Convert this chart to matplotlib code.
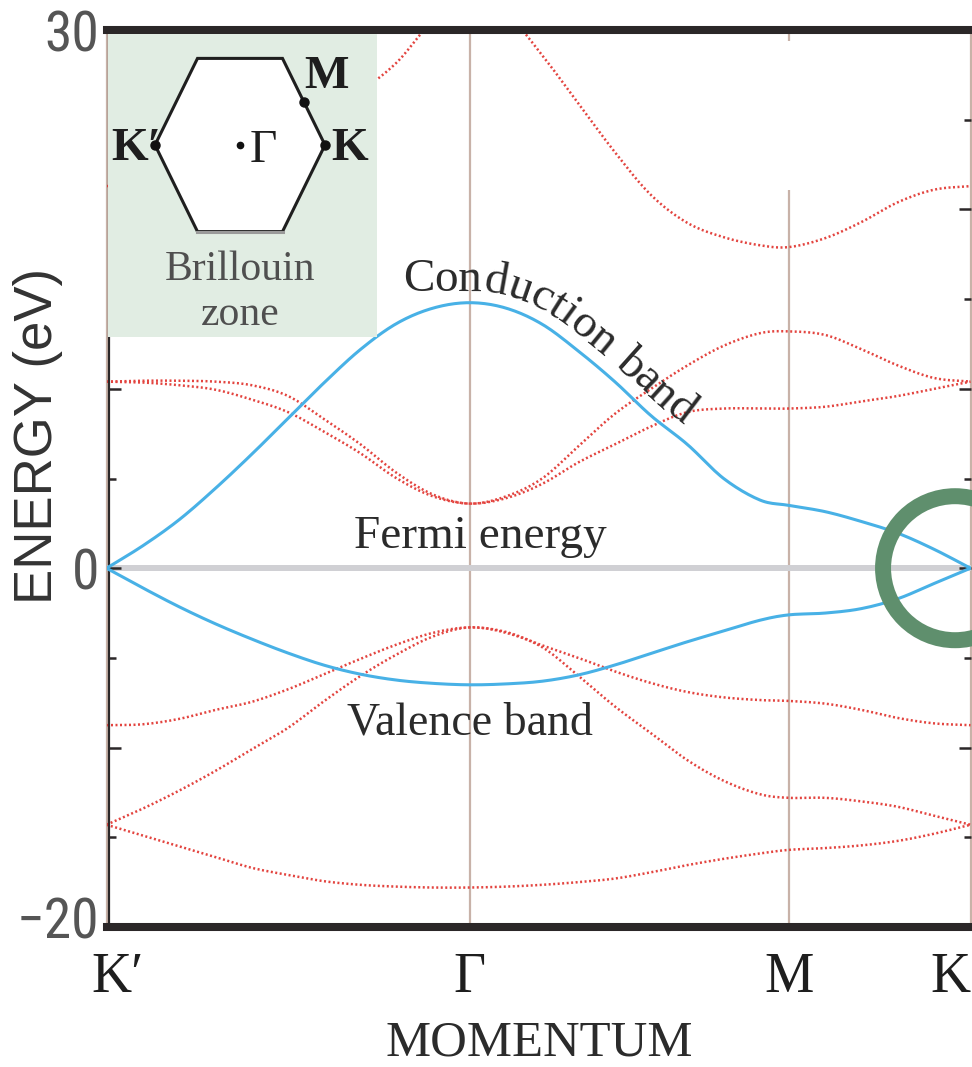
import numpy as np
import matplotlib
matplotlib.use('Agg')
import matplotlib.pyplot as plt
import matplotlib.transforms as mtransforms
from matplotlib import font_manager
from matplotlib.font_manager import FontProperties
from matplotlib.patches import Ellipse, Arc, Polygon
from matplotlib.ticker import MultipleLocator

W, H, DPI = 972, 1067, 100

installed = {f.name for f in font_manager.fontManager.ttflist}


def pick(*names):
    for n in names:
        if n in installed:
            return n
    return 'DejaVu Sans'


NARROW = pick('Liberation Sans Narrow', 'Roboto Condensed', 'Liberation Sans')
SANS = pick('Liberation Sans', 'DejaVu Sans')
SERIF = pick('Liberation Serif', 'DejaVu Serif')

# path through the Brillouin zone: K' - Gamma - M - K
K_PATH = [0.0, 0.1, 0.2, 0.3, 0.4, 0.5, 0.6, 0.7, 0.8, 0.9, 1.0,
          1.1, 1.2, 1.3, 1.4, 1.5, 1.6, 1.7, 1.8, 1.88,
          1.98, 2.08, 2.18, 2.28, 2.38]
SYM_POS = [0.0, 1.0, 1.88, 2.38]
SYM_LABELS = ['K′', 'Γ', 'M', 'K']

# pi bands (eV)
conduction = [0.0, 1.25, 2.7, 4.45, 6.35, 8.35, 10.35, 12.2, 13.65, 14.5, 14.8,
              14.5, 13.6, 12.1, 10.4, 8.5, 6.9, 5.0, 3.8, 3.5,
              3.15, 2.6, 1.95, 1.05, 0.0]
valence = [0.0, -1.1, -2.15, -3.1, -3.95, -4.73, -5.41, -5.91, -6.24, -6.42, -6.5,
           -6.45, -6.3, -5.95, -5.4, -4.75, -4.1, -3.5, -2.9, -2.6,
           -2.5, -2.25, -1.7, -0.85, 0.0]

# sigma bands (eV)
band_top = [21.3, 21.4, 21.8, 22.4, 23.2, 24.2, 25.4, 26.6, 28.2, 30.6, 32.3,
            31.0, 28.6, 25.9, 23.2, 20.8, 19.25, 18.45, 18.0, 17.9,
            18.4, 19.3, 20.4, 21.1, 21.3]
band_up_a = [10.4, 10.45, 10.45, 10.4, 10.2, 9.6, 8.3, 6.9, 5.3, 4.1, 3.6,
             4.0, 5.0, 6.8, 8.6, 10.0, 11.3, 12.4, 13.1, 13.2,
             13.0, 12.2, 11.3, 10.6, 10.4]
band_up_b = [10.4, 10.35, 10.2, 9.95, 9.4, 8.7, 7.6, 6.4, 5.0, 4.0, 3.6,
             3.9, 4.7, 5.9, 6.9, 7.9, 8.7, 8.9, 8.9, 8.9,
             9.0, 9.3, 9.6, 10.0, 10.4]
band_low_a = [-8.75, -8.7, -8.4, -7.9, -7.45, -6.75, -5.9, -5.05, -4.25, -3.6, -3.3,
              -3.55, -4.3, -5.0, -5.75, -6.4, -6.9, -7.2, -7.35, -7.4,
              -7.55, -7.9, -8.35, -8.65, -8.75]
band_low_b = [-14.3, -13.4, -12.4, -11.3, -10.1, -8.9, -7.4, -6.0, -4.8, -3.8, -3.3,
              -3.6, -4.4, -6.0, -7.7, -9.2, -10.7, -11.85, -12.6, -12.8,
              -12.8, -13.0, -13.3, -13.8, -14.3]
band_low_c = [-14.3, -14.9, -15.5, -16.1, -16.7, -17.1, -17.45, -17.65, -17.75, -17.8, -17.8,
              -17.75, -17.65, -17.5, -17.3, -16.95, -16.55, -16.2, -15.9, -15.7,
              -15.6, -15.45, -15.2, -14.8, -14.3]
sigma_bands = [band_top, band_up_a, band_up_b, band_low_a, band_low_b, band_low_c]

BLUE = '#48b1e6'
RED = '#e3443f'
TAN = '#c8b2a8'
INK = '#2b2728'


def smooth(xs, ys, n=12):
    # Catmull-Rom curve through the sampled points
    p = np.column_stack([xs, ys]).astype(float)
    p = np.vstack([2 * p[0] - p[1], p, 2 * p[-1] - p[-2]])
    t = np.linspace(0, 1, n, endpoint=False)[:, None]
    out = []
    for i in range(1, len(p) - 2):
        p0, p1, p2, p3 = p[i - 1], p[i], p[i + 1], p[i + 2]
        out.append(0.5 * (2 * p1 + (-p0 + p2) * t
                          + (2 * p0 - 5 * p1 + 4 * p2 - p3) * t ** 2
                          + (-p0 + 3 * p1 - 3 * p2 + p3) * t ** 3))
    out.append(p[-2][None])
    c = np.vstack(out)
    return c[:, 0], c[:, 1]


def text_on_curve(ax, s, kx, ky, x_start, lift, fp, flat_left=False, **kw):
    fig = ax.figure
    r = fig.canvas.get_renderer()
    pts = ax.transData.transform(np.column_stack([kx, ky]))
    tang = np.gradient(pts, axis=0)
    tang /= np.hypot(tang[:, 0], tang[:, 1])[:, None]
    norm = np.column_stack([-tang[:, 1], tang[:, 0]])
    guide = pts + lift * norm
    if flat_left:
        top = np.argmax(guide[:, 1])
        guide[:top, 1] = guide[top, 1]
    seg = np.hypot(*np.diff(guide, axis=0).T)
    arc = np.concatenate([[0], np.cumsum(seg)])
    s0 = np.interp(x_start, guide[:, 0], arc)

    def width(t):
        return r.get_text_width_height_descent(t, fp, ismath=False)[0] if t else 0.0

    for i, ch in enumerate(s):
        if ch == ' ':
            continue
        c = s0 + width(s[:i + 1]) - width(ch) / 2
        x = np.interp(c, arc, guide[:, 0])
        y = np.interp(c, arc, guide[:, 1])
        dx = np.interp(c + 3, arc, guide[:, 0]) - np.interp(c - 3, arc, guide[:, 0])
        dy = np.interp(c + 3, arc, guide[:, 1]) - np.interp(c - 3, arc, guide[:, 1])
        ax.text(x, y, ch, transform=mtransforms.IdentityTransform(),
                rotation=np.degrees(np.arctan2(dy, dx)), rotation_mode='anchor',
                ha='center', va='baseline', fontproperties=fp, **kw)


def shift(artist, dx, dy):
    # nudge a text by a few points
    artist.set_transform(artist.get_transform()
                         + mtransforms.ScaledTranslation(dx / 72, dy / 72, fig.dpi_scale_trans))


fig = plt.figure(figsize=(W / DPI, H / DPI), dpi=DPI)
ax = fig.add_axes([106.5 / W, 1 - 927 / H, 864 / W, 897 / H])
ax.set_xlim(SYM_POS[0], SYM_POS[-1])
ax.set_ylim(-20, 30)

# high-symmetry lines
for pos in (SYM_POS[0], SYM_POS[1], SYM_POS[3]):
    ax.axvline(pos, color=TAN, lw=1.6, zorder=1, clip_on=False)
ax.vlines(SYM_POS[2], -20, 21.1, color=TAN, lw=1.6, zorder=1)
ax.vlines(SYM_POS[2], 29.4, 30, color=TAN, lw=1.6, zorder=1)

# Fermi level
ax.axhline(0, color='#d0d0d4', lw=4.3, zorder=1.5)

for band in sigma_bands:
    kx, ky = smooth(K_PATH, band)
    ax.plot(kx, ky, color=RED, lw=1.8, ls=(0, (0.8, 1.0)), zorder=2)

ckx, cky = smooth(K_PATH, conduction)
vkx, vky = smooth(K_PATH, valence)
ax.plot(ckx, cky, color=BLUE, lw=2.2, zorder=3, solid_capstyle='round')
ax.plot(vkx, vky, color=BLUE, lw=2.2, zorder=3, solid_capstyle='round')

# Dirac point marker
kc = (955 - 106.5) / 363
ax.add_patch(Arc((kc, 0), 2 * 88 / 363, 2 * 88 / 17.94, theta1=-86, theta2=86,
                 color='#dbeadd', lw=8.6, zorder=4.5, clip_on=False))
ax.add_patch(Ellipse((kc, 0), 2 * 72 / 363, 2 * 72 / 17.94, fill=False,
                     edgecolor='#5f8f6d', lw=11.5, zorder=5, clip_on=False))

# labels on the plot
serif_fp = FontProperties(family=SERIF, size=34)
ax.text(1.03, 1.1, 'Fermi energy', ha='center', va='baseline',
        fontproperties=serif_fp, color='#2b2b2b', zorder=4)
ax.text(1.0, -9.25, 'Valence band', ha='center', va='baseline',
        fontproperties=FontProperties(family=SERIF, size=33), color='#2b2b2b', zorder=4)
text_on_curve(ax, 'Conduction band', ckx, cky, 403, 12, serif_fp,
              flat_left=True, color='#2b2b2b', zorder=4)

# axes frame and ticks
for side in ('top', 'bottom'):
    ax.spines[side].set_linewidth(5.8)
    ax.spines[side].set_color(INK)
ax.spines['right'].set_visible(False)
ax.spines['left'].set_linewidth(1.6)
ax.spines['left'].set_color(INK)
ax.spines['left'].set_position(('axes', 0.0025))

ax.set_yticks([-20, -10, 0, 10, 20, 30])
ax.set_yticklabels(['−20', '', '0', '', '', '30'])
ax.yaxis.set_minor_locator(MultipleLocator(5))
ax.tick_params(axis='y', which='both', direction='in', left=True, right=True,
               width=1.8, color=INK, labelsize=40, labelcolor='#555555', pad=7)
ax.tick_params(axis='y', which='major', length=8.6)
ax.tick_params(axis='y', which='minor', length=5)
ylabels = ax.get_yticklabels()
for lbl in ylabels:
    lbl.set_fontfamily(NARROW)
shift(ylabels[0], 0, 6.5)

ax.set_xticks(SYM_POS, SYM_LABELS)
ax.tick_params(axis='x', length=0, pad=18, labelsize=40, labelcolor='#1e1e1e')
xlabels = ax.get_xticklabels()
for lbl in xlabels:
    lbl.set_fontfamily(SERIF)
shift(xlabels[0], 7.6, 0)
shift(xlabels[-1], -14.5, 0)

fig.text(38 / W, 1 - 436 / H, 'ENERGY (eV)', rotation=90, ha='center', va='center',
         family=SANS, size=38, color='#333333')
fig.text(539 / W, 1 - 1043 / H, 'MOMENTUM', ha='center', va='center',
         family=SERIF, size=36.5, color='#2b2b2b')

# Brillouin zone inset
ins = fig.add_axes([107.5 / W, 1 - 337 / H, (377 - 107.5) / W, (337 - 34) / H], zorder=3)
ins.set_facecolor('#e1ede3')
ins.set_xlim((107.5 - 240) / 85, (377 - 240) / 85)
ins.set_ylim((145 - 337) / 100, (145 - 34) / 100)
ins.set_xticks([])
ins.set_yticks([])
for sp in ins.spines.values():
    sp.set_visible(False)

ang = np.radians(np.arange(0, 360, 60))
hexagon = np.column_stack([np.cos(ang), np.sin(ang)])
ins.add_patch(Polygon(hexagon, closed=True, facecolor='white', edgecolor='#1f1f1f', lw=2.2))
ins.plot(hexagon[[4, 5], 0], hexagon[[4, 5], 1], color='#9a9a9a', lw=2.2)

m_pt = (hexagon[0] + hexagon[1]) / 2
ins.plot([-1, 1, m_pt[0]], [0, 0, m_pt[1]], 'o', color='#111111', ms=6.5)
ins.plot([0], [0], 'o', color='#111111', ms=4.5)

bold_fp = FontProperties(family=SERIF, size=34, weight='bold')
ins.text(-1.22, -0.15, 'K′', ha='center', va='baseline', fontproperties=bold_fp, color='#1e1e1e')
ins.text(1.29, -0.15, 'K', ha='center', va='baseline', fontproperties=bold_fp, color='#1e1e1e')
ins.text(1.02, 0.57, 'M', ha='center', va='baseline', fontproperties=bold_fp, color='#1e1e1e')
ins.text(0.27, -0.17, 'Γ', ha='center', va='baseline', family=SERIF, size=34, color='#1e1e1e')
ins.text(0.0, -1.35, 'Brillouin', ha='center', va='baseline', family=SERIF, size=30, color='#4f4f4f')
ins.text(0.0, -1.8, 'zone', ha='center', va='baseline', family=SERIF, size=30, color='#4f4f4f')

fig.savefig('out.png', dpi=DPI)
